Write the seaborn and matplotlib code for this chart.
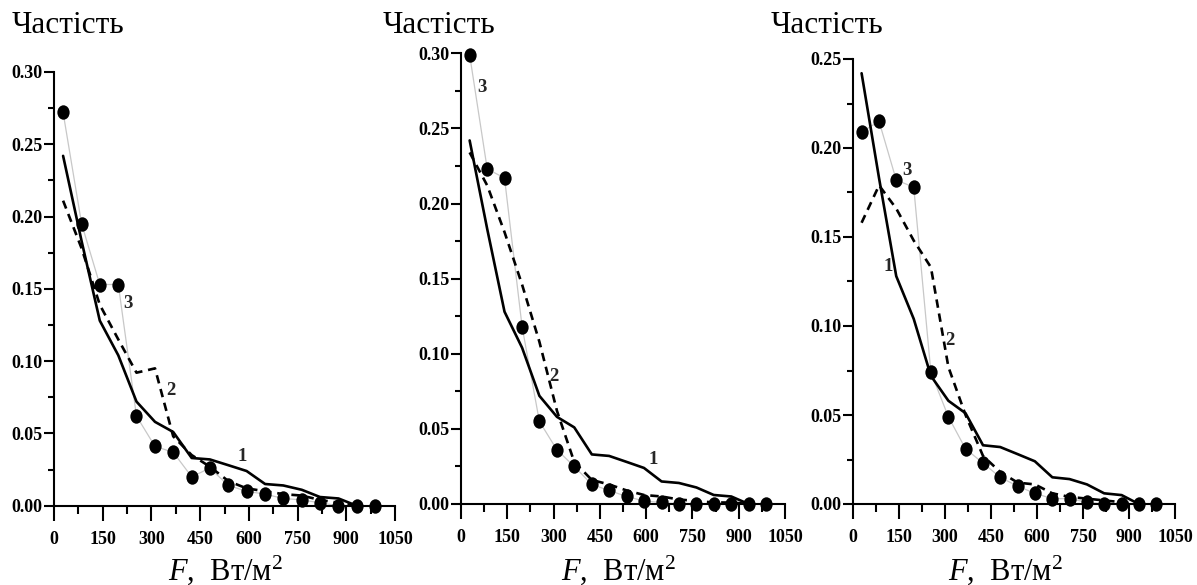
import matplotlib
matplotlib.use("Agg")
import matplotlib.pyplot as plt
import seaborn as sns
from matplotlib.path import Path
from matplotlib.transforms import Affine2D
from matplotlib.ticker import MultipleLocator, FormatStrFormatter

# Bin centres of the flux density F, W/m^2
F = [28, 85, 141, 198, 254, 311, 367, 424, 480, 537, 593, 650, 706, 763, 819, 876, 932, 989]

# Curve 1 (solid) - same in all three panels
curve1 = [0.242, 0.183, 0.128, 0.104, 0.072, 0.058, 0.051, 0.033, 0.032,
          0.028, 0.024, 0.015, 0.014, 0.011, 0.006, 0.005, 0.000]

# Curve 2 (dashed) per panel
curve2_a = [0.211, 0.178, 0.139, 0.115, 0.092, 0.095, 0.048, 0.035, 0.027,
            0.017, 0.012, 0.010, 0.008, 0.007, 0.004, 0.002, 0.000]
curve2_b = [0.234, 0.212, 0.181, 0.146, 0.108, 0.062, 0.028, 0.016, 0.013,
            0.009, 0.006, 0.005, 0.003, 0.002, 0.001, 0.001, 0.000]
curve2_c = [0.158, 0.179, 0.166, 0.148, 0.133, 0.077, 0.050, 0.027, 0.018,
            0.012, 0.011, 0.006, 0.004, 0.003, 0.002, 0.001, 0.000]

# Curve 3 (observed frequencies, dots) per panel
obs_a = [0.272, 0.195, 0.153, 0.153, 0.062, 0.041, 0.037, 0.020, 0.026,
         0.014, 0.010, 0.008, 0.005, 0.004, 0.002, 0.000, 0.000, 0.000]
obs_b = [0.299, 0.223, 0.217, 0.118, 0.055, 0.036, 0.025, 0.013, 0.009,
         0.005, 0.002, 0.001, 0.000, 0.000, 0.000, 0.000, 0.000, 0.000]
obs_c = [0.209, 0.215, 0.182, 0.178, 0.074, 0.049, 0.031, 0.023, 0.015,
         0.010, 0.006, 0.003, 0.003, 0.001, 0.000, 0.000, 0.000, 0.000]

# Curve-number annotations: (text, F, value)
labels_a = [("1", 578, 0.0337), ("2", 360, 0.0798), ("3", 229, 0.1397)]
labels_b = [("1", 623, 0.0298), ("2", 302, 0.0848), ("3", 69, 0.277)]
labels_c = [("1", 115, 0.1333), ("2", 316, 0.0921), ("3", 175, 0.1876)]

y_tops = [0.30, 0.30, 0.25]
y_label = "Частість"
x_label = r"$F$,  Вт/м$^2$"
x_ticks = [0, 150, 300, 450, 600, 750, 900, 1050]

sns.set_theme(style="white")
plt.rcParams["font.family"] = ["Liberation Serif", "DejaVu Serif"]
plt.rcParams["mathtext.fontset"] = "custom"
plt.rcParams["mathtext.rm"] = "Liberation Serif"
plt.rcParams["mathtext.it"] = "Liberation Serif:italic"

W, H = 1197, 585
fig = plt.figure(figsize=(W / 100, H / 100), dpi=100)
fig.patch.set_facecolor("white")

# axes rectangles in pixels: left, bottom(from top), right, top(from top)
boxes = [(54, 505.7, 395, 72), (461, 504, 785, 53.3), (853, 504, 1175, 59)]
title_x = [12, 383, 771]
xlabel_cx = [226, 619, 1006]

# slightly tall elliptical dot
ellipse = Path.unit_circle().transformed(Affine2D().scale(0.85, 1.0))

panels = [(curve2_a, obs_a, labels_a), (curve2_b, obs_b, labels_b), (curve2_c, obs_c, labels_c)]

for i, (c2, obs, labs) in enumerate(panels):
    l, b, r, t = boxes[i]
    ax = fig.add_axes([l / W, (H - b) / H, (r - l) / W, (b - t) / H])
    ax.set_facecolor("white")

    sns.lineplot(x=F, y=obs, ax=ax, color="#c8c8c8", linewidth=0.9,
                 estimator=None, sort=False, clip_on=False, zorder=2)
    sns.scatterplot(x=F, y=obs, ax=ax, marker=ellipse, s=108, color="black",
                    edgecolor="black", linewidth=0, clip_on=False, zorder=5)
    sns.lineplot(x=F[:len(curve1)], y=curve1, ax=ax, color="black", linewidth=1.9,
                 estimator=None, sort=False, clip_on=False, zorder=3)
    sns.lineplot(x=F[:len(c2)], y=c2, ax=ax, color="black", linewidth=1.9,
                 linestyle=(0, (3.2, 2.2)), estimator=None, sort=False,
                 clip_on=False, zorder=3)

    for txt, fx, fy in labs:
        ax.text(fx, fy, txt, ha="center", va="center", fontsize=13.5,
                fontweight="bold", zorder=6)

    ax.set_xlim(0, 1050)
    ax.set_ylim(0, y_tops[i])
    ax.set_xlabel("")
    ax.set_ylabel("")
    for s in ("top", "right"):
        ax.spines[s].set_visible(False)
    for s in ("left", "bottom"):
        ax.spines[s].set_linewidth(1.5)
        ax.spines[s].set_color("black")

    ax.set_xticks(x_ticks)
    ax.xaxis.set_minor_locator(MultipleLocator(75))
    ax.yaxis.set_major_locator(MultipleLocator(0.05))
    ax.yaxis.set_minor_locator(MultipleLocator(0.025))
    ax.yaxis.set_major_formatter(FormatStrFormatter("%.2f"))

    ax.tick_params(axis="x", which="major", direction="out", length=10.5, width=1.5,
                   pad=7.5, labelsize=13, bottom=True, colors="black")
    ax.tick_params(axis="x", which="minor", direction="out", length=5.5, width=1.5,
                   bottom=True, colors="black")
    ax.tick_params(axis="y", which="major", direction="out", length=7, width=1.5,
                   pad=1.2, labelsize=13, left=True, colors="black")
    ax.tick_params(axis="y", which="minor", direction="out", length=4, width=1.5,
                   left=True, colors="black")
    for lab in ax.get_xticklabels() + ax.get_yticklabels():
        lab.set_fontweight("bold")
    ax.grid(False)

    fig.text(title_x[i] / W, 1 - 33 / H, y_label, fontsize=22.5,
             ha="left", va="baseline", color="black")
    fig.text(xlabel_cx[i] / W, 1 - 580 / H, x_label, fontsize=22,
             ha="center", va="baseline", color="black")

fig.savefig("out.png", dpi=100, facecolor="white")
